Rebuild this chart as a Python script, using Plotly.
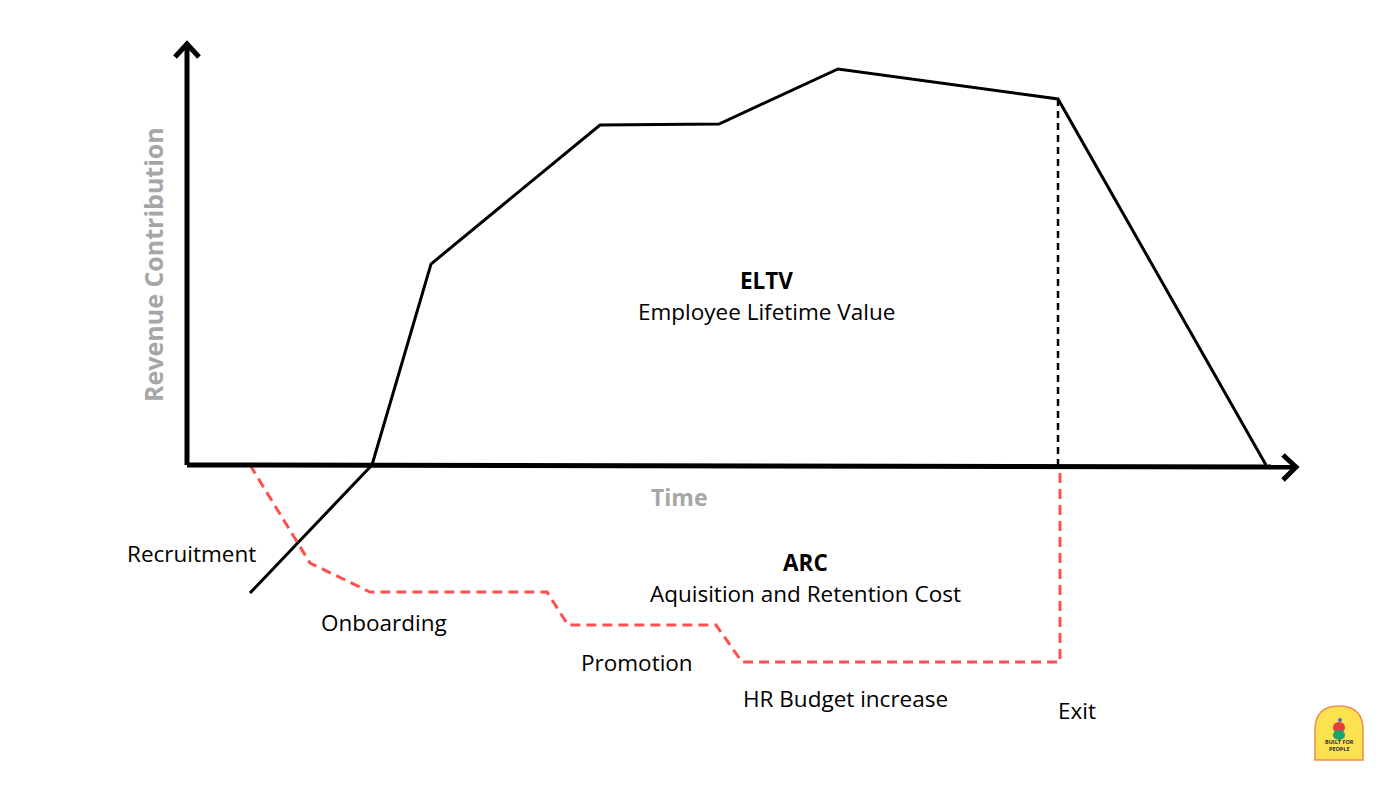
import plotly.graph_objects as go

# ---- data (time units along x, revenue units along y; origin at axis crossing) ----
eltv_time = [63, 185, 244, 413, 532, 651, 871, 1079]
eltv_value = [-128, 0, 201, 340, 341, 396, 366, 0]

exit_time = [871, 871]
exit_value = [366, 0]

arc_time = [63, 123, 183, 360, 381, 529, 555, 873, 873]
arc_value = [0, -98, -127, -127, -160, -160, -197, -197, 0]

stage_labels = ["Recruitment", "Onboarding", "Promotion", "HR Budget increase", "Exit"]
stage_time = [4, 197, 450, 658, 890]
stage_value = [-88, -157, -197, -233, -245]

OX, OY = 187, 465  # pixel position of the origin


def px(x):
    return x - OX


def py(y):
    return OY - y


fig = go.Figure()

fig.add_trace(go.Scatter(x=eltv_time, y=eltv_value, mode="lines",
                         line=dict(color="black", width=3), hoverinfo="skip"))
fig.add_trace(go.Scatter(x=exit_time, y=exit_value, mode="lines",
                         line=dict(color="black", width=2.5, dash="7px,5px"), hoverinfo="skip"))
fig.add_trace(go.Scatter(x=arc_time, y=arc_value, mode="lines",
                         line=dict(color="#ff5050", width=3, dash="10px,6px"), hoverinfo="skip"))

shapes = []
# axes
shapes.append(dict(type="line", x0=0, y0=0, x1=0, y1=py(44), line=dict(color="black", width=5)))
shapes.append(dict(type="line", x0=0, y0=0, x1=px(1295), y1=py(467), line=dict(color="black", width=5)))
# arrow heads (chevrons)
shapes.append(dict(type="path",
                   path=f"M {px(175)},{py(57)} L 0,{py(44)} L {px(199)},{py(57)}",
                   line=dict(color="black", width=5)))
shapes.append(dict(type="path",
                   path=f"M {px(1283)},{py(455)} L {px(1296)},{py(467)} L {px(1283)},{py(480)}",
                   line=dict(color="black", width=5)))
# logo badge
lx0, lx1, ly0, ly1 = 1315, 1363, 706, 760
r = (lx1 - lx0) / 2
cx = (lx0 + lx1) / 2
shapes.append(dict(type="path",
                   path=(f"M {px(lx0)},{py(ly1)} L {px(lx0)},{py(ly0 + r)} "
                         f"Q {px(lx0)},{py(ly0)} {px(cx)},{py(ly0)} "
                         f"Q {px(lx1)},{py(ly0)} {px(lx1)},{py(ly0 + r)} "
                         f"L {px(lx1)},{py(ly1)} Z"),
                   fillcolor="#fde24f", line=dict(color="#f08a4b", width=1.5)))
shapes.append(dict(type="circle", x0=px(1333), x1=px(1345), y0=py(733), y1=py(722),
                   fillcolor="#e23c3c", line=dict(width=0)))
shapes.append(dict(type="circle", x0=px(1333), x1=px(1345), y0=py(740), y1=py(730),
                   fillcolor="#1aa36b", line=dict(width=0)))
shapes.append(dict(type="circle", x0=px(1338), x1=px(1342), y0=py(722), y1=py(718),
                   fillcolor="#3b6fd8", line=dict(width=0)))

annotations = []
FONT = "Open Sans"
FS = 22.5
for lab, t, v in zip(stage_labels, stage_time, stage_value):
    annotations.append(dict(x=t, y=v, text=lab, showarrow=False,
                            font=dict(family=FONT, size=FS, color="black")))
annotations += [
    dict(x=px(766), y=py(280), text="<b>ELTV</b>", showarrow=False,
         font=dict(family=FONT, size=FS, color="black")),
    dict(x=px(766), y=py(311), text="Employee Lifetime Value", showarrow=False,
         font=dict(family=FONT, size=FS, color="black")),
    dict(x=px(805), y=py(562), text="<b>ARC</b>", showarrow=False,
         font=dict(family=FONT, size=FS, color="black")),
    dict(x=px(805), y=py(593), text="Aquisition and Retention Cost", showarrow=False,
         font=dict(family=FONT, size=FS, color="black")),
    dict(x=px(679), y=py(497), text="<b>Time</b>", showarrow=False,
         font=dict(family=FONT, size=23, color="#a6a6a6")),
    dict(x=px(153), y=py(265), text="<b>Revenue Contribution</b>", showarrow=False,
         textangle=-90, font=dict(family=FONT, size=25, color="#a6a6a6")),
    dict(x=px(1339), y=py(745), text="<b>BUILT FOR<br>PEOPLE</b>", showarrow=False,
         font=dict(family=FONT, size=5.5, color="#1d2a4a")),
]

fig.update_layout(
    width=1400, height=789,
    margin=dict(l=0, r=0, t=0, b=0),
    paper_bgcolor="white", plot_bgcolor="white",
    showlegend=False,
    xaxis=dict(range=[px(0), px(1400)], visible=False, fixedrange=True),
    yaxis=dict(range=[py(789), py(0)], visible=False, fixedrange=True),
    shapes=shapes, annotations=annotations,
)

fig.write_html("out.html")
